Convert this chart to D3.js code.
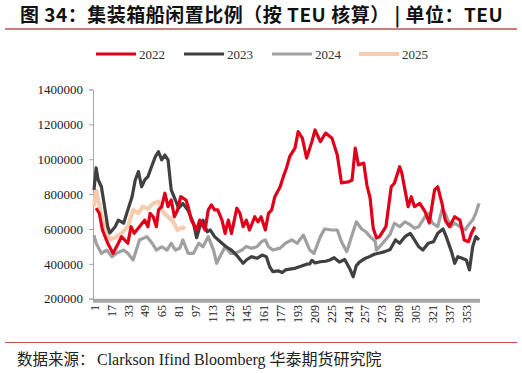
<!DOCTYPE html>
<html>
<head>
<meta charset="utf-8">
<script src="https://cdn.jsdelivr.net/npm/d3@7"></script>
<style>
  body { margin: 0; background: #fff; }
  svg { display: block; }
</style>
</head>
<body>
<div id="chart"></div>
<script>
// Years shown in the legend
var years = ["2022", "2023", "2024", "2025"];

// X axis tick labels (day of year)
var dayTicks = [1, 17, 33, 49, 65, 81, 97, 113, 129, 145, 161, 177, 193, 209, 225, 241, 257, 273, 289, 305, 321, 337, 353];

// Y axis tick values
var yTicks = [200000, 400000, 600000, 800000, 1000000, 1200000, 1400000];

// Idle TEU per series, [day, TEU]
var idle2022 = [[3,720000],[6,690000],[9,594000],[14,518000],[19,460000],[24,518000],[27,556000],[33,518000],[36,613000],[39,575000],[44,613000],[49,651000],[52,613000],[54,690000],[57,670000],[60,613000],[62,709000],[65,728000],[68,805000],[71,728000],[74,766000],[77,670000],[80,709000],[83,785000],[88,766000],[90,728000],[93,651000],[98,594000],[101,651000],[106,594000],[109,709000],[112,738000],[115,709000],[118,709000],[122,651000],[125,575000],[128,651000],[131,575000],[136,719000],[139,690000],[142,613000],[145,651000],[148,594000],[153,670000],[156,641000],[159,670000],[163,594000],[166,690000],[169,709000],[172,785000],[177,842000],[180,900000],[183,950000],[186,1015000],[191,1064000],[194,1158000],[198,1121000],[202,1007000],[207,1101000],[210,1168000],[215,1101000],[220,1150000],[226,1121000],[231,1024000],[235,864000],[242,871000],[245,881000],[248,1064000],[251,967000],[256,978000],[259,852000],[262,778000],[265,604000],[268,548000],[271,556000],[277,613000],[282,842000],[285,862000],[290,957000],[292,921000],[295,824000],[298,728000],[301,785000],[304,728000],[309,747000],[314,699000],[318,634000],[323,824000],[326,842000],[330,747000],[333,651000],[337,613000],[342,670000],[347,651000],[351,537000],[355,527000],[358,577000],[361,613000]];

var idle2023 = [[1,824000],[3,950000],[5,881000],[8,842000],[11,728000],[14,613000],[16,577000],[21,613000],[24,651000],[29,633000],[32,690000],[37,785000],[40,881000],[43,929000],[46,842000],[49,881000],[52,900000],[56,967000],[59,1015000],[62,1043000],[65,996000],[68,1024000],[71,996000],[74,824000],[78,766000],[81,719000],[85,747000],[90,705000],[95,633000],[98,550000],[101,613000],[104,651000],[108,584000],[111,594000],[115,556000],[122,518000],[126,498000],[131,479000],[137,441000],[142,403000],[145,422000],[150,441000],[155,432000],[160,450000],[164,441000],[167,384000],[170,355000],[175,360000],[179,350000],[182,365000],[186,370000],[191,374000],[196,385000],[202,398000],[205,400000],[207,420000],[210,405000],[215,412000],[220,415000],[224,422000],[228,435000],[233,410000],[238,425000],[243,370000],[246,326000],[249,390000],[252,410000],[257,430000],[261,440000],[266,455000],[271,462000],[276,470000],[281,482000],[286,537000],[290,518000],[295,556000],[300,575000],[304,537000],[308,498000],[312,479000],[317,518000],[322,527000],[326,575000],[331,600000],[334,556000],[339,470000],[342,403000],[345,441000],[349,432000],[353,422000],[356,365000],[359,498000],[362,556000],[365,537000]];

var idle2024 = [[1,565000],[3,518000],[8,460000],[13,479000],[18,441000],[22,460000],[29,479000],[33,460000],[38,422000],[41,479000],[44,537000],[51,556000],[56,518000],[60,479000],[65,498000],[70,479000],[74,518000],[78,479000],[82,489000],[85,537000],[90,460000],[95,460000],[100,518000],[104,498000],[109,556000],[114,479000],[117,403000],[120,441000],[125,498000],[130,460000],[134,460000],[141,479000],[145,500000],[150,489000],[155,498000],[160,530000],[163,537000],[166,498000],[170,479000],[177,490000],[182,518000],[188,537000],[193,518000],[199,565000],[205,479000],[209,460000],[215,556000],[219,600000],[226,594000],[231,594000],[235,527000],[240,470000],[245,565000],[249,641000],[254,600000],[258,584000],[262,556000],[267,527000],[268,479000],[274,518000],[281,570000],[285,633000],[290,613000],[295,641000],[299,628000],[304,604000],[308,613000],[313,661000],[317,690000],[321,633000],[326,613000],[330,709000],[333,690000],[338,613000],[342,633000],[347,613000],[352,594000],[355,623000],[359,651000],[362,690000],[365,747000]];

var idle2025 = [[1,728000],[3,820000],[6,740000],[9,651000],[13,590000],[16,540000],[21,550000],[27,575000],[33,613000],[38,709000],[43,690000],[47,728000],[52,715000],[57,747000],[62,757000],[66,700000],[71,670000],[76,641000],[80,594000],[85,610000],[87,600000]];

var seriesData = [idle2022, idle2023, idle2024, idle2025];
var colors = ["#e0001a", "#404040", "#a0a0a0", "#f8cbad"];
var widths = [3.2, 3.2, 3.2, 4];

var width = 522;
var height = 373;

var svg = d3.select("#chart")
  .append("svg")
  .attr("width", width)
  .attr("height", height);

// Title and rules
svg.append("text")
  .attr("x", 20)
  .attr("y", 21.5)
  .style("font-family", "'Noto Sans CJK SC', sans-serif")
  .style("font-weight", "bold")
  .style("font-size", "19px")
  .style("letter-spacing", "0.5px")
  .style("fill", "#111")
  .text("图 34：集装箱船闲置比例（按 TEU 核算） | 单位：TEU");

svg.append("line")
  .attr("x1", 5).attr("x2", 517)
  .attr("y1", 29).attr("y2", 29)
  .style("stroke", "#c0504d")
  .style("stroke-width", 1.5);

svg.append("line")
  .attr("x1", 5).attr("x2", 517)
  .attr("y1", 342.5).attr("y2", 342.5)
  .style("stroke", "#c0504d")
  .style("stroke-width", 1.2);

// Source note
svg.append("text")
  .attr("x", 17)
  .attr("y", 364.5)
  .style("font-family", "'Noto Sans CJK SC', serif")
  .style("font-size", "15.5px")
  .style("fill", "#222")
  .text("数据来源：");

svg.append("text")
  .attr("x", 97)
  .attr("y", 364.5)
  .style("font-family", "'Liberation Serif', 'Noto Sans CJK SC', serif")
  .style("font-size", "16px")
  .style("fill", "#222")
  .text("Clarkson Ifind Bloomberg 华泰期货研究院");

// Scales
var x = d3.scaleLinear()
  .domain([1, 365])
  .range([94, 479]);

var y = d3.scaleLinear()
  .domain([200000, 1400000])
  .range([298.7, 89.5]);

// Y axis
var yAxis = svg.append("g")
  .attr("transform", "translate(93,0)")
  .call(d3.axisLeft(y).tickValues(yTicks).tickSize(4).tickPadding(6).tickFormat(d3.format("d")));

yAxis.select(".domain").style("stroke", "#a6a6a6");
yAxis.selectAll(".tick line").style("stroke", "#a6a6a6");
yAxis.selectAll("text")
  .style("font-family", "'Liberation Serif', serif")
  .style("font-size", "13px")
  .style("fill", "#222");

// X axis: thick gray bar, rotated day labels
svg.append("line")
  .attr("x1", 93).attr("x2", 480)
  .attr("y1", 300.7).attr("y2", 300.7)
  .style("stroke", "#a6a6a6")
  .style("stroke-width", 4);

var xAxis = svg.append("g")
  .attr("transform", "translate(0,303)")
  .call(d3.axisBottom(x).tickValues(dayTicks).tickSize(0).tickFormat(d3.format("d")));

xAxis.select(".domain").remove();
xAxis.selectAll("text")
  .attr("transform", "rotate(-90)")
  .attr("x", -2)
  .attr("y", 0)
  .attr("dy", "0.35em")
  .style("text-anchor", "end")
  .style("font-family", "'Liberation Serif', serif")
  .style("font-size", "12px")
  .style("fill", "#222");

// Lines, 2025 first so 2022 sits on top
var line = d3.line()
  .x(function(d){ return x(d[0]); })
  .y(function(d){ return y(d[1]); });

for (var i = seriesData.length - 1; i >= 0; i--) {
  svg.append("path")
    .datum(seriesData[i])
    .attr("d", line)
    .style("fill", "none")
    .style("stroke", colors[i])
    .style("stroke-width", widths[i])
    .style("stroke-linejoin", "round");
}

// Legend
var legendX = [96, 184, 272, 359];
var legend = svg.selectAll("g.legend")
  .data(years)
  .enter()
  .append("g")
  .attr("class", "legend")
  .attr("transform", function(d, i){ return "translate(" + legendX[i] + ",54)"; });

legend.append("line")
  .attr("x1", 0).attr("x2", 40)
  .attr("y1", 0).attr("y2", 0)
  .style("stroke", function(d, i){ return colors[i]; })
  .style("stroke-width", function(d, i){ return widths[i]; });

legend.append("text")
  .attr("x", 43)
  .attr("y", 0)
  .attr("dy", "0.35em")
  .style("font-family", "'Liberation Serif', serif")
  .style("font-size", "13px")
  .style("fill", "#333")
  .text(function(d){ return d; });
</script>
</body>
</html>
